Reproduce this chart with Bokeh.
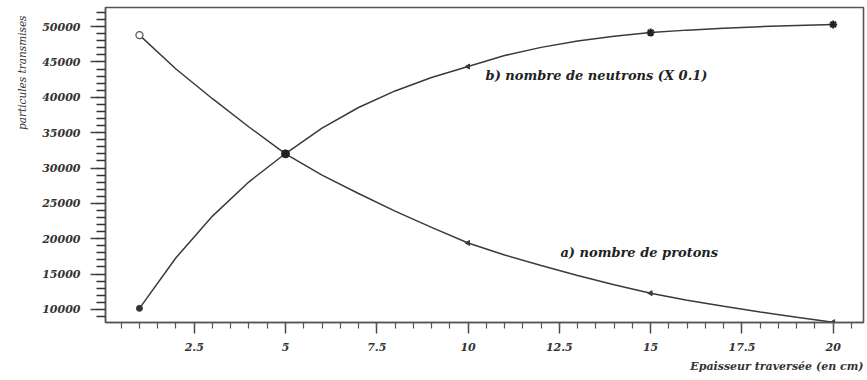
import math
from bokeh.plotting import figure
from bokeh.models import Label, Range1d, FixedTicker, Title, LinearAxis
from bokeh.embed import file_html
from bokeh.resources import INLINE

# Thickness crossed (cm) and transmitted particle counts
thickness = [1, 2, 3, 4, 5, 6, 7, 8, 9, 10, 11, 12, 13, 14, 15, 16, 17, 18, 19, 20]
protons = [48800, 44000, 39800, 35800, 32000, 29000, 26400, 23900, 21600, 19400,
           17700, 16200, 14800, 13500, 12300, 11300, 10450, 9650, 8900, 8200]
neutrons = [10150, 17300, 23200, 28050, 32050, 35650, 38560, 40900, 42800, 44350,
            45900, 47060, 47950, 48630, 49150, 49500, 49770, 49990, 50160, 50300]

# Measured points carrying a marker
marker_x = [1, 5, 10, 15, 20]
proton_marks = [48800, 32000, 19400, 12300, 8200]
neutron_marks = [10150, 32050, 44350, 49150, 50300]

x_ticks = [2.5, 5, 7.5, 10, 12.5, 15, 17.5, 20]
x_tick_text = {2.5: "2.5", 5: "5", 7.5: "7.5", 10: "10", 12.5: "12.5",
               15: "15", 17.5: "17.5", 20: "20"}
y_ticks = [10000, 15000, 20000, 25000, 30000, 35000, 40000, 45000, 50000]
y_fine_ticks = [9000 + 1000 * i for i in range(44)]

INK = "#3a3a3a"
FONT = "DejaVu Serif"

p = figure(width=867, height=380, output_backend="svg", toolbar_location=None,
           x_range=Range1d(0.07, 20.83), y_range=Range1d(8150, 52700),
           min_border_left=105, min_border_right=4, min_border_top=7,
           min_border_bottom=58, background_fill_color="white",
           border_fill_color="white")
p.grid.visible = False
p.outline_line_color = "#555555"
p.outline_line_width = 1.6

# curves
p.line(thickness, protons, line_color=INK, line_width=1.5)
p.line(thickness, neutrons, line_color=INK, line_width=1.5)

# markers
p.scatter([marker_x[0]], [proton_marks[0]], marker="circle", size=7,
          fill_color="white", line_color="#555555", line_width=1.3)
p.scatter([marker_x[1]], [proton_marks[1]], marker="circle", size=8,
          fill_color="#222222", line_color="#222222")
p.scatter(marker_x[2:], proton_marks[2:], marker="triangle", size=5,
          fill_color=INK, line_color=INK, angle=math.pi / 2)
p.scatter([marker_x[0]], [neutron_marks[0]], marker="circle", size=6,
          fill_color="#333333", line_color="#333333")
p.scatter([marker_x[2]], [neutron_marks[2]], marker="triangle", size=5,
          fill_color=INK, line_color=INK, angle=math.pi / 2)
p.scatter(marker_x[3:], neutron_marks[3:], marker="asterisk", size=8,
          line_color="#222222", line_width=2)


def style_labels(ax):
    ax.major_label_text_font = FONT
    ax.major_label_text_font_style = "bold italic"
    ax.major_label_text_font_size = "11px"
    ax.major_label_text_color = "#333333"


# x axis
xa = p.xaxis[0]
xa.ticker = FixedTicker(ticks=x_ticks,
                        minor_ticks=[0.5 * i for i in range(1, 42)])
xa.major_label_overrides = x_tick_text
xa.axis_line_color = "#555555"
xa.axis_line_width = 1.4
xa.major_tick_line_color = "#444444"
xa.minor_tick_line_color = "#555555"
xa.major_tick_line_width = 1.4
xa.minor_tick_line_width = 1.2
xa.major_tick_in = 0
xa.minor_tick_in = 0
xa.major_tick_out = 11
xa.minor_tick_out = 6
xa.major_label_standoff = 9
style_labels(xa)

# y axis: fine ticks every 1000 next to the frame, no values written
ya = p.yaxis[0]
ya.ticker = FixedTicker(ticks=y_fine_ticks)
ya.axis_line_color = "#555555"
ya.axis_line_width = 1.4
ya.major_tick_line_color = "#333333"
ya.major_tick_line_width = 1.5
ya.major_tick_in = 0
ya.major_tick_out = 9
ya.minor_tick_line_color = None
ya.major_label_overrides = {t: "" for t in y_fine_ticks}
ya.major_label_text_color = None
ya.major_label_standoff = 0

# ... extended outward every 5000, where the values are written
ya2 = LinearAxis(ticker=FixedTicker(ticks=y_ticks), axis_line_color=None,
                 major_tick_line_color="#444444", major_tick_line_width=1.4,
                 major_tick_in=2, major_tick_out=6, minor_tick_line_color=None,
                 major_label_standoff=10)
style_labels(ya2)
p.add_layout(ya2, "left")

# axis titles
p.add_layout(Title(text="particules transmises", align="right",
                   text_font=FONT, text_font_style="italic",
                   text_font_size="10.5px", text_color="#333333",
                   standoff=23, offset=8), "left")
p.add_layout(Title(text="Epaisseur traversée (en cm)", align="right",
                   text_font=FONT, text_font_style="bold italic",
                   text_font_size="11px", text_color="#333333",
                   standoff=8), "below")

# curve annotations
p.add_layout(Label(x=10.48, y=43100, text="b) nombre de neutrons (X 0.1)",
                   text_align="left", text_baseline="middle",
                   text_font=FONT, text_font_style="bold italic",
                   text_font_size="13px", text_color="#222222"))
p.add_layout(Label(x=12.53, y=18000, text="a) nombre de protons",
                   text_align="left", text_baseline="middle",
                   text_font=FONT, text_font_style="bold italic",
                   text_font_size="13px", text_color="#222222"))

open("out.html", "w").write(file_html(p, INLINE))
